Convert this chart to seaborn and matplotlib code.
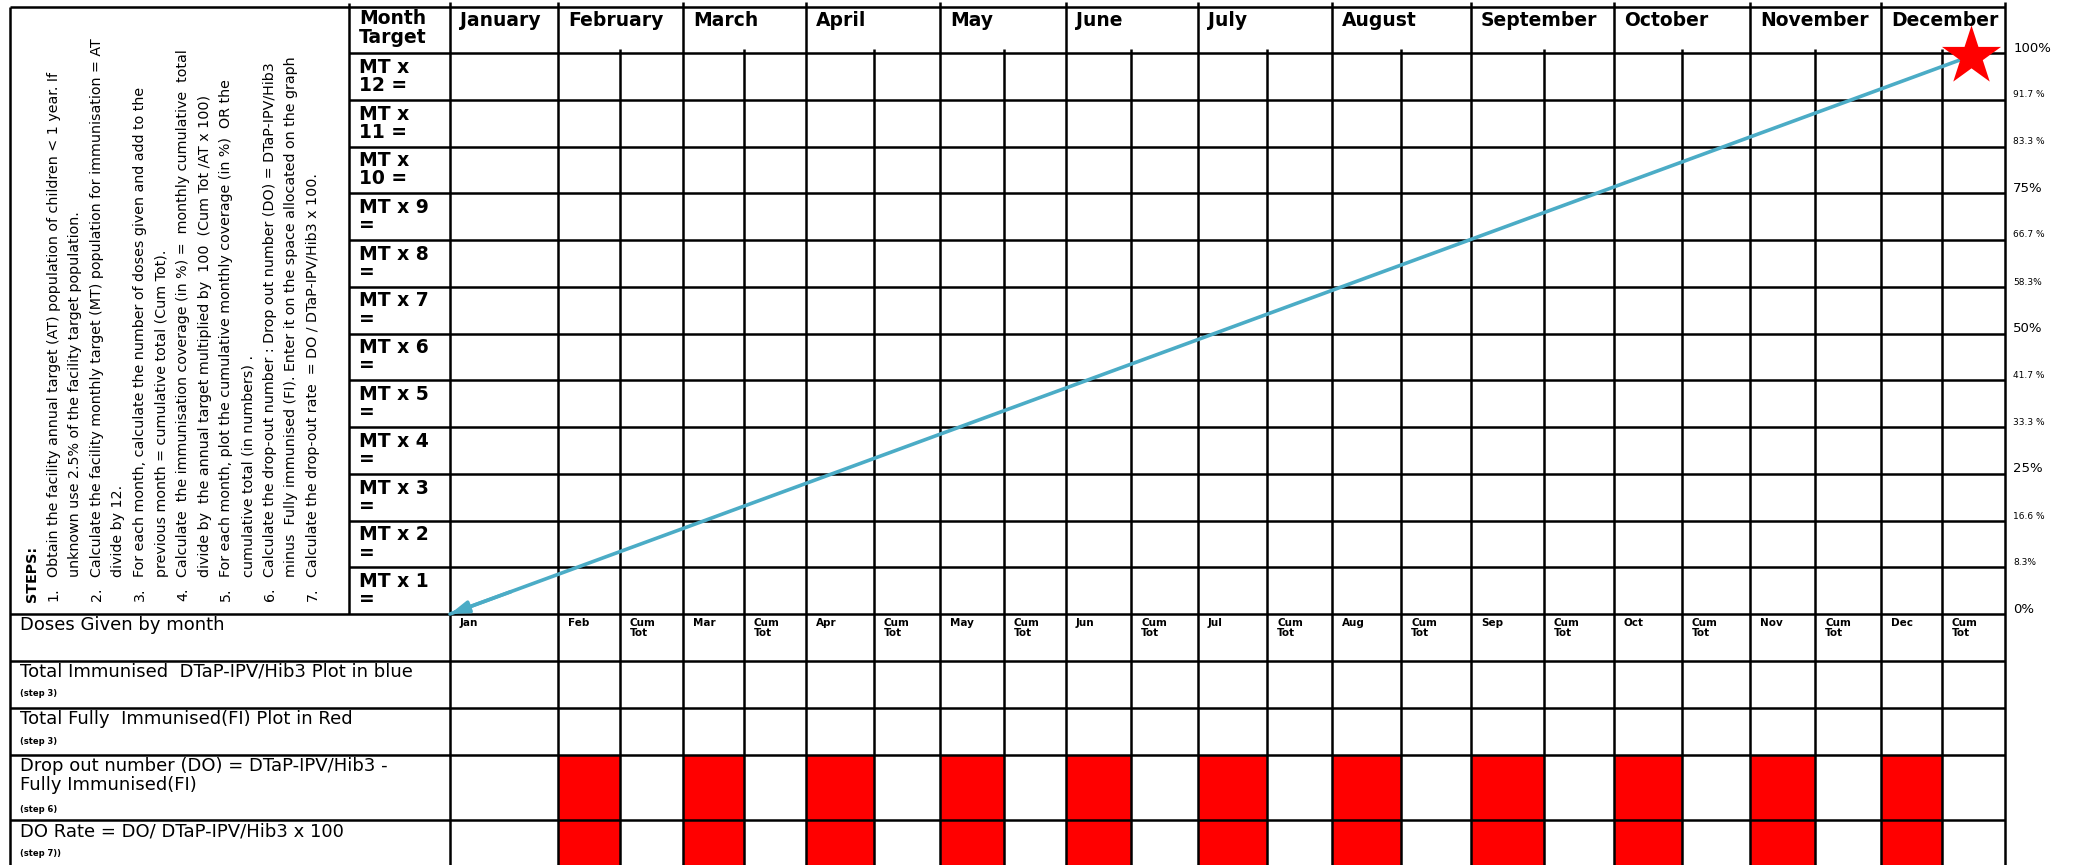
import matplotlib
matplotlib.use("Agg")
import matplotlib.pyplot as plt
from matplotlib.patches import Rectangle
import seaborn as sns

month_names = ["January", "February", "March", "April", "May", "June",
               "July", "August", "September", "October", "November", "December"]
month_abbr = ["Jan", "Feb", "Mar", "Apr", "May", "Jun",
              "Jul", "Aug", "Sep", "Oct", "Nov", "Dec"]
mt_multipliers = [12, 11, 10, 9, 8, 7, 6, 5, 4, 3, 2, 1]

coverage_ticks = [0, 8.3, 16.6, 25, 33.3, 41.7, 50, 58.3, 66.7, 75, 83.3, 91.7, 100]
coverage_labels = ["0%", "8.3%", "16.6 %", "25%", "33.3 %", "41.7 %", "50%",
                   "58.3%", "66.7 %", "75%", "83.3 %", "91.7 %", "100%"]
major_labels = ["0%", "25%", "50%", "75%", "100%"]

# target line: 0 % at the start of January, star (100 %) at December cum tot
target_month = [0, 11.74]
target_cov = [0, 99.5]

steps_title = "STEPS:"
steps = [
    ("1.", ["Obtain the facility annual target (AT) population of children < 1 year. If",
            "unknown use 2.5% of the facility target population."]),
    ("2.", ["Calculate the facility monthly target (MT) population for immunisation = AT",
            "divide by 12."]),
    ("3.", ["For each month, calculate the number of doses given and add to the",
            "previous month = cumulative total (Cum Tot)."]),
    ("4.", ["Calculate  the immunisation coverage (in %) =  monthly cumulative  total",
            "divide by  the annual target multiplied by  100  (Cum Tot /AT x 100)"]),
    ("5.", ["For each month, plot the cumulative monthly coverage (in %)  OR the",
            "cumulative total (in numbers) ."]),
    ("6.", ["Calculate the drop-out number : Drop out number (DO) = DTaP-IPV/Hib3",
            "minus  Fully immunised (FI). Enter it on the space allocated on the graph"]),
    ("7.", ["Calculate the drop-out rate  = DO / DTaP-IPV/Hib3 x 100."]),
]

row_labels = ["Doses Given by month",
              "Total Immunised  DTaP-IPV/Hib3 Plot in blue",
              "Total Fully  Immunised(FI) Plot in Red",
              "Drop out number (DO) = DTaP-IPV/Hib3 -\nFully Immunised(FI)",
              "DO Rate = DO/ DTaP-IPV/Hib3 x 100"]
row_notes = [None, "(step 3)", "(step 3)", "(step 6)", "(step 7))"]
red_rows = [3, 4]  # drop-out rows get red month cells (Feb..Dec)

# ---- layout of the form (pixels) ----
W, H = 2074, 865
x_left, x_mt = 10, 349
month_edges = [450, 558, 683, 806, 940, 1066, 1198, 1332, 1471, 1614, 1750, 1881, 2005]
cum_splits = [620, 744, 874, 1004, 1131, 1267, 1401, 1544, 1682, 1815, 1942]
x_right = month_edges[-1]
y_top, y_head, y_grid = 7, 53, 614
bottom_rows = [614, 661, 708, 755, 820, H + 5]
line_col = "#4BACC6"
lw = 1.8

sns.set_theme(style="white")
plt.rcParams["font.family"] = ["DejaVu Sans"]
plt.rcParams["text.color"] = "black"

fig = plt.figure(figsize=(W / 100, H / 100), dpi=100)
ax = fig.add_axes([0, 0, 1, 1])
ax.set_xlim(0, W)
ax.set_ylim(H, 0)
ax.axis("off")

# red cells in the drop-out rows
for r in red_rows:
    for m in range(1, 12):
        x0, x1 = month_edges[m], cum_splits[m - 1]
        ax.add_patch(Rectangle((x0, bottom_rows[r]), x1 - x0,
                               bottom_rows[r + 1] - bottom_rows[r],
                               facecolor="#FF0000", edgecolor="none", zorder=1))

# grid lines
row_h = (y_grid - y_head) / 12
ax.hlines(y_top, x_left, x_right, color="black", lw=lw, zorder=2)
for i in range(12):
    ax.hlines(y_head + i * row_h, x_mt, x_right, color="black", lw=lw, zorder=2)
ax.hlines(bottom_rows[:-1], x_left, x_right, color="black", lw=lw, zorder=2)
ax.vlines(x_left, y_top, H, color="black", lw=lw, zorder=2)
ax.vlines(x_mt, y_top - 4, y_grid, color="black", lw=lw, zorder=2)
ax.vlines(month_edges, y_top - 5, H, color="black", lw=lw, zorder=2)
ax.vlines(cum_splits, y_head - 4, H, color="black", lw=lw, zorder=2)

# steps panel (rotated text)
sx0, sdx = 32, 21.6
txt_kw = dict(rotation=90, rotation_mode="anchor", ha="left", va="center", fontsize=10.3)
ax.text(sx0, 602, steps_title, fontweight="bold", **txt_kw)
li = 1
for num, lines in steps:
    for j, t in enumerate(lines):
        x = sx0 + li * sdx
        if j == 0:
            ax.text(x, 601, num, **txt_kw)
        ax.text(x, 577, t, **txt_kw)
        li += 1

# header row
ax.text(x_mt + 10, 28, "Month\nTarget", ha="left", va="center", fontsize=13.5,
        fontweight="bold", linespacing=1.0)
for m, name in enumerate(month_names):
    ax.text(month_edges[m] + 10, 21, name, ha="left", va="center",
            fontsize=13.5, fontweight="bold")

# MT x rows
for i, n in enumerate(mt_multipliers):
    lab = f"MT x\n{n} =" if n >= 10 else f"MT x {n}\n="
    ax.text(x_mt + 10, y_head + i * row_h + row_h / 2, lab, ha="left", va="center",
            fontsize=13.5, fontweight="bold", linespacing=0.95)

# bottom table labels
for r, (lab, note) in enumerate(zip(row_labels, row_notes)):
    top = bottom_rows[r]
    ax.text(20, top + 2, lab, ha="left", va="top", fontsize=13, linespacing=1.05)
    if note:
        nl = lab.count("\n")
        ax.text(20, top + 33 + 22 * nl, note, ha="left", va="center",
                fontsize=6, fontweight="bold")

ax.text(month_edges[0] + 10, 618, month_abbr[0], ha="left", va="top",
        fontsize=7.5, fontweight="bold")
for m in range(1, 12):
    ax.text(month_edges[m] + 10, 618, month_abbr[m], ha="left", va="top",
            fontsize=7.5, fontweight="bold")
    ax.text(cum_splits[m - 1] + 10, 618, "Cum\nTot", ha="left", va="top",
            fontsize=7.5, fontweight="bold", linespacing=1.0)

# coverage chart overlaid on the target grid
ax2 = fig.add_axes([month_edges[0] / W, (H - y_grid) / H,
                    (x_right - month_edges[0]) / W, (y_grid - y_head) / H])
ax2.set_xlim(0, 12)
ax2.set_ylim(0, 100)
ax2.patch.set_alpha(0)
for s in ax2.spines.values():
    s.set_visible(False)
ax2.set_xticks([])
ax2.set_yticks([])

sns.lineplot(x=target_month, y=target_cov, ax=ax2, color=line_col, lw=2.6,
             clip_on=False, zorder=5)
ax2.annotate("", xy=(target_month[0], target_cov[0]),
             xytext=(target_month[0] + 0.04 * (target_month[1] - target_month[0]),
                     target_cov[0] + 0.04 * (target_cov[1] - target_cov[0])),
             arrowprops=dict(arrowstyle="-|>,head_length=0.9,head_width=0.3",
                             color=line_col, lw=2.6, mutation_scale=12,
                             shrinkA=0, shrinkB=0),
             annotation_clip=False, zorder=6)
sns.scatterplot(x=[target_month[1]], y=[target_cov[1]], ax=ax2, marker="*",
                s=2000, color="#FF0000", linewidth=0, clip_on=False, zorder=7)

for val, lab in zip(coverage_ticks, coverage_labels):
    big = lab in major_labels
    ax2.annotate(lab, xy=(1, val), xycoords=ax2.get_yaxis_transform(),
                 xytext=(6, 3.5), textcoords="offset points", ha="left", va="center",
                 fontsize=9.5 if big else 6.5, annotation_clip=False)

fig.savefig("out.png", dpi=100)
